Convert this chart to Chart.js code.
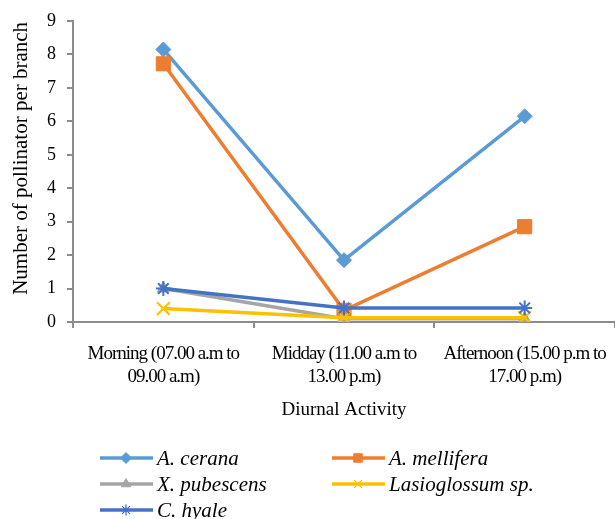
<!DOCTYPE html>
<html>
<head>
<meta charset="utf-8">
<script src="https://cdn.jsdelivr.net/npm/chart.js@4/dist/chart.umd.min.js"></script>
<style>
  html, body { margin: 0; padding: 0; background: #fff; }
  #wrap { width: 615px; height: 519px; position: relative; }
</style>
</head>
<body>
<div id="wrap"><canvas id="chart"></canvas></div>
<script>
// categories and series
var periods = [
  ['Morning (07.00 a.m to', '09.00 a.m)'],
  ['Midday (11.00 a.m to', '13.00 p.m)'],
  ['Afternoon (15.00 p.m to', '17.00 p.m)']
];
var aCerana = [8.15, 1.85, 6.15];
var aMellifera = [7.72, 0.35, 2.85];
var xPubescens = [1.0, 0.1, 0.1];
var lasioglossum = [0.4, 0.13, 0.13];
var cHyale = [1.0, 0.42, 0.42];
var yTicks = [0, 1, 2, 3, 4, 5, 6, 7, 8, 9];

var serif = '"Liberation Serif", "Times New Roman", serif';

function series(label, data, color, style, radius, order) {
  return {
    label: label,
    data: data,
    borderColor: color,
    backgroundColor: color,
    pointBackgroundColor: color,
    pointBorderColor: color,
    pointStyle: style,
    pointRadius: radius,
    pointHoverRadius: radius,
    pointBorderWidth: (style === 'star' || style === 'crossRot') ? 2 : 1,
    borderWidth: 3.5,
    tension: 0,
    order: order
  };
}

// legend drawn in two columns like the original
var legendPlugin = {
  id: 'twoColLegend',
  afterDraw: function(chart) {
    var ctx = chart.ctx;
    var cols = [100, 332];
    var rows = [458, 484, 510];
    ctx.save();
    chart.data.datasets.forEach(function(ds, i) {
      var x = cols[i % 2], y = rows[Math.floor(i / 2)];
      ctx.strokeStyle = ds.borderColor;
      ctx.lineWidth = 3.5;
      ctx.beginPath();
      ctx.moveTo(x, y);
      ctx.lineTo(x + 53, y);
      ctx.stroke();
      ctx.fillStyle = ds.borderColor;
      ctx.lineWidth = ds.pointBorderWidth === 2 ? 1.3 : 1;
      Chart.helpers.drawPoint(ctx, {
        pointStyle: ds.pointStyle,
        radius: ds.pointStyle === 'rect' ? 6 : 5.5,
        borderWidth: ctx.lineWidth,
        rotation: 0
      }, x + 26, y);
      ctx.fillStyle = '#000';
      ctx.font = 'italic 21px ' + serif;
      ctx.textBaseline = 'middle';
      ctx.textAlign = 'left';
      ctx.fillText(ds.label, x + 57, y + 1);
    });
    ctx.restore();
  }
};

// x tick labels in the original are set tight
var tightLabels = {
  id: 'tightLabels',
  afterLayout: function(chart) {
    var sc = chart.scales.x;
    if (sc._tight) return;
    var orig = sc.drawLabels;
    sc.drawLabels = function(area) {
      this.ctx.save();
      this.ctx.letterSpacing = '-1px';
      orig.call(this, area);
      this.ctx.restore();
    };
    sc._tight = true;
  }
};

var pad = '\u00a0\u00a0\u00a0\u00a0\u00a0';

new Chart(document.getElementById('chart'), {
  type: 'line',
  data: {
    labels: periods,
    datasets: [
      series('A. cerana', aCerana, '#5B9BD5', 'rectRot', 7.5, 5),
      series('A. mellifera', aMellifera, '#ED7D31', 'rect', 10, 4),
      series('X. pubescens', xPubescens, '#A5A5A5', 'triangle', 7, 3),
      series('Lasioglossum sp.', lasioglossum, '#FFC000', 'crossRot', 9, 2),
      series('C. hyale', cHyale, '#4472C4', 'star', 7.5, 1)
    ]
  },
  plugins: [legendPlugin, tightLabels],
  options: {
    responsive: true,
    maintainAspectRatio: false,
    animation: false,
    layout: { autoPadding: false, padding: { top: 21, right: 0, bottom: 87, left: 0 } },
    plugins: {
      legend: { display: false },
      tooltip: { enabled: false }
    },
    scales: {
      x: {
        offset: true,
        grid: {
          offset: true,
          drawOnChartArea: false,
          drawTicks: true,
          tickLength: 6,
          color: '#8c8c8c',
          lineWidth: 2
        },
        border: { color: '#8c8c8c', width: 2 },
        ticks: {
          color: '#000',
          font: { family: serif, size: 19 },
          maxRotation: 0,
          autoSkip: false,
          padding: 15
        },
        title: {
          display: true,
          text: 'Diurnal Activity',
          color: '#000',
          font: { family: serif, size: 19 },
          padding: { top: 8, bottom: 11 }
        },
        afterFit: function(scale) {
          scale.height = 110;
          scale.paddingLeft = 0;
          scale.paddingRight = 0;
        }
      },
      y: {
        min: 0,
        max: 9,
        afterBuildTicks: function(scale) {
          scale.ticks = yTicks.map(function(v) { return { value: v }; });
        },
        grid: {
          drawOnChartArea: false,
          drawTicks: true,
          tickLength: 6,
          color: '#8c8c8c',
          lineWidth: 2
        },
        border: { color: '#8c8c8c', width: 2 },
        ticks: {
          color: '#000',
          font: { family: serif, size: 18 },
          padding: 11
        },
        title: {
          display: true,
          text: pad + 'Number of pollinator per branch',
          color: '#000',
          font: { family: serif, size: 21 },
          padding: { top: 9, bottom: 4 }
        },
        afterFit: function(scale) {
          scale.width = 73;
          scale.paddingTop = 0;
          scale.paddingBottom = 0;
        }
      }
    }
  }
});
</script>
</body>
</html>
